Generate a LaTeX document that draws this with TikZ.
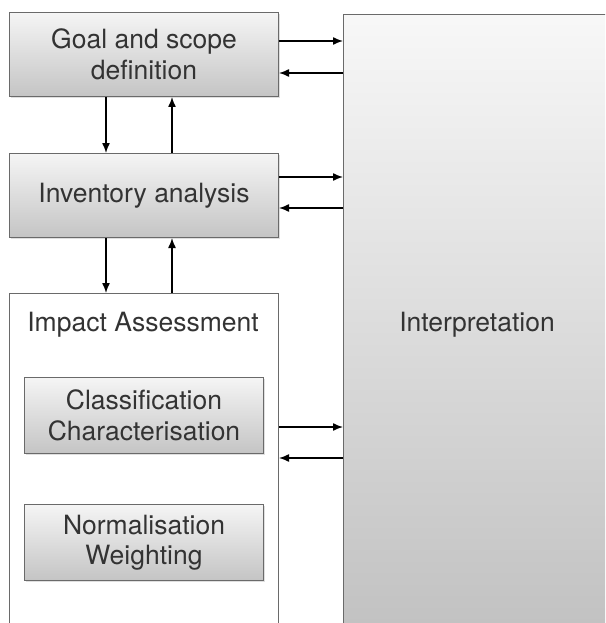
\documentclass[tikz,border=0pt]{standalone}
\usepackage{fontspec}
\setmainfont{TeX Gyre Heros}
\usetikzlibrary{arrows.meta,shadows}
\definecolor{bordergray}{HTML}{6A6A6A}
\definecolor{textgray}{HTML}{333333}
\tikzset{
  box/.style={draw=bordergray, line width=1pt, rectangle, anchor=north west,
    top color=white!96!black, bottom color=white!77!black,
    drop shadow={shadow xshift=1pt, shadow yshift=-1.5pt, opacity=0.25},
    align=center, text=textgray, font=\fontsize{26.5}{30.5}\selectfont, inner sep=0pt},
  plainbox/.style={draw=bordergray, line width=1pt, rectangle, anchor=north west, fill=white},
  lbl/.style={text=textgray, font=\fontsize{26.5}{30.5}\selectfont, inner sep=0pt},
  arr/.style={-{Latex[length=10pt,width=8pt]}, line width=1.4pt, black}
}
\begin{document}
\begin{tikzpicture}[x=1pt,y=-1pt]
\useasboundingbox (0,0) rectangle (605,623);
\clip (0,0) rectangle (605,623);
\fill[white] (0,0) rectangle (605,623);
% Interpretation column
\node[draw=bordergray, line width=1pt, rectangle, anchor=north west,
  top color=white!97!black, bottom color=white!76!black,
  minimum width=300pt, minimum height=612pt, inner sep=0pt] (interp) at (343,14) {};
\node[lbl] (interptxt) at (477,325) {Interpretation};
% Goal
\node[box, minimum width=269pt, minimum height=84pt] (goal) at (9,12) {Goal and scope\\definition};
% Inventory
\node[box, minimum width=269pt, minimum height=84pt] (inv) at (9,153) {Inventory analysis};
% Impact assessment
\node[plainbox, minimum width=269pt, minimum height=360pt, inner sep=0pt] (impact) at (9,293) {};
\node[lbl] (impacttxt) at (143,325) {Impact Assessment};
\node[box, minimum width=239pt, minimum height=76pt] (class) at (24,377) {Classification\\Characterisation};
\node[box, minimum width=239pt, minimum height=76pt] (norm) at (24,504) {Normalisation\\Weighting};
% vertical arrows
\draw[arr] (goal.south -| 106,0) -- (inv.north -| 106,0);
\draw[arr] (inv.north -| 172,0) -- (goal.south -| 172,0);
\draw[arr] (inv.south -| 106,0) -- (impact.north -| 106,0);
\draw[arr] (impact.north -| 172,0) -- (inv.south -| 172,0);
% horizontal arrows
\draw[arr] (goal.east |- 0,41) -- (interp.west |- 0,41);
\draw[arr] (interp.west |- 0,73) -- (goal.east |- 0,73);
\draw[arr] (inv.east |- 0,177) -- (interp.west |- 0,177);
\draw[arr] (interp.west |- 0,208) -- (inv.east |- 0,208);
\draw[arr] (impact.east |- 0,427) -- (interp.west |- 0,427);
\draw[arr] (interp.west |- 0,458) -- (impact.east |- 0,458);
\end{tikzpicture}
\end{document}
